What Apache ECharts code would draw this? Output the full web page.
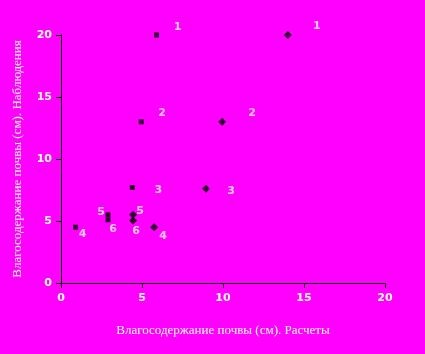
<!DOCTYPE html>
<html>
<head>
<meta charset="utf-8">
<script src="https://cdn.jsdelivr.net/npm/echarts@6/dist/echarts.min.js"></script>
<style>
  html, body { margin: 0; padding: 0; background: #ff00ff; }
  #chart { width: 425px; height: 354px; }
</style>
</head>
<body>
<div id="chart"></div>
<script>
// номера точек
const pointNames = ["1", "2", "3", "4", "5", "6"];
// серия 1 (квадраты): расчет / наблюдение
const calcA = [5.9, 4.95, 4.4, 0.9, 2.9, 2.9];
const obsA = [20, 13, 7.7, 4.5, 5.5, 5.1];
// серия 2 (ромбы)
const calcB = [14.0, 9.95, 8.95, 5.75, 4.45, 4.45];
const obsB = [20, 13, 7.6, 4.5, 5.5, 5.05];
const xTicks = [0, 5, 10, 15, 20];
const yTicks = [0, 5, 10, 15, 20];

// сдвиг подписей относительно точек
const shiftA = [[21, -8], [21, -9], [26, 3], [7, 7], [-7, -3], [5, 9]];
const shiftB = [[29, -9], [30, -9], [25, 2], [9, 9], [7, -4], [3, 11]];

const chart = echarts.init(document.getElementById("chart"));

const labelStyle = {
  show: true,
  position: "inside",
  color: "#ffffff",
  fontFamily: "DejaVu Sans",
  fontWeight: "bold",
  fontSize: 11,
  formatter: (p) => p.data.name
};

function buildData(xs, ys, shifts) {
  return xs.map((x, i) => ({
    name: pointNames[i],
    value: [x, ys[i]],
    label: { offset: shifts[i] }
  }));
}

const axisBase = {
  min: 0,
  max: 20,
  interval: 5,
  splitLine: { show: false },
  axisLine: { show: true, onZero: false, lineStyle: { color: "#000", width: 1 } },
  axisTick: { show: true, inside: false, length: 5, lineStyle: { color: "#000" } },
  axisLabel: {
    color: "#ffffff",
    fontFamily: "DejaVu Sans",
    fontWeight: "bold",
    fontSize: 11
  },
  nameTextStyle: {
    color: "#ffffff",
    fontFamily: "Liberation Serif",
    fontSize: 13
  }
};

chart.setOption({
  backgroundColor: "#ff00ff",
  animation: false,
  grid: { left: 61, right: 40, top: 35, bottom: 71 },
  xAxis: Object.assign({}, axisBase, {
    type: "value",
    name: "Влагосодержание почвы (см). Расчеты",
    nameLocation: "middle",
    nameGap: 41,
    axisLabel: Object.assign({}, axisBase.axisLabel, {
      margin: 10,
      formatter: (v) => (xTicks.includes(v) ? String(v) : "")
    })
  }),
  yAxis: Object.assign({}, axisBase, {
    type: "value",
    name: "Влагосодержание почвы (см). Наблюдения",
    nameLocation: "middle",
    nameGap: 37,
    axisLabel: Object.assign({}, axisBase.axisLabel, {
      margin: 9,
      formatter: (v) => (yTicks.includes(v) ? String(v) : "")
    })
  }),
  series: [
    {
      type: "scatter",
      symbol: "rect",
      symbolSize: 5,
      itemStyle: { color: "#000" },
      label: labelStyle,
      data: buildData(calcA, obsA, shiftA)
    },
    {
      type: "scatter",
      symbol: "diamond",
      symbolSize: 8,
      itemStyle: { color: "#000" },
      label: labelStyle,
      data: buildData(calcB, obsB, shiftB)
    }
  ]
});
</script>
</body>
</html>
